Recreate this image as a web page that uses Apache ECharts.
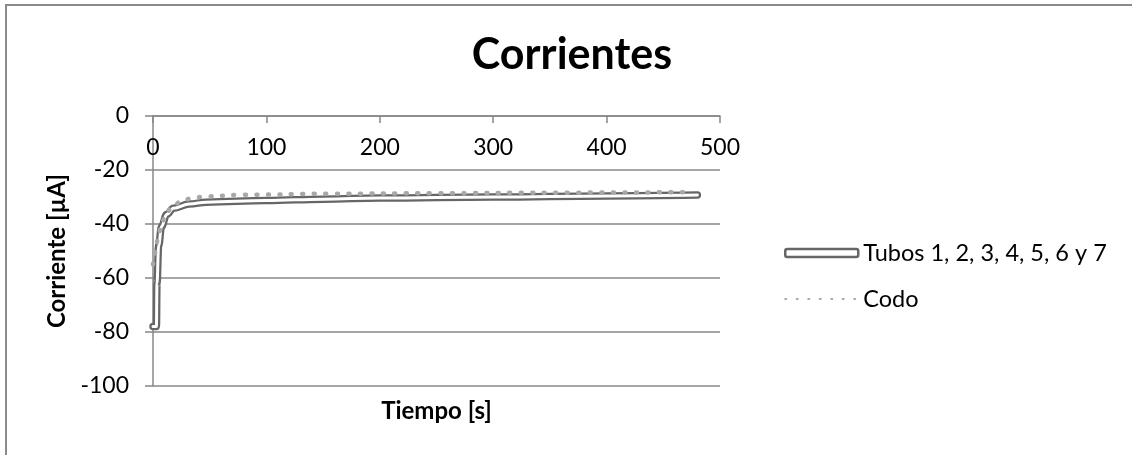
<!DOCTYPE html>
<html>
<head>
<meta charset="utf-8">
<title>Corrientes</title>
<script src="https://cdn.jsdelivr.net/npm/echarts@6/dist/echarts.min.js"></script>
<style>
html, body { margin: 0; padding: 0; background: #fff; }
#chart { width: 1132px; height: 455px; }
</style>
</head>
<body>
<div id="chart"></div>
<script>
// datos
var tubosTiempo = [0, 3, 3.5, 5, 7.5, 12, 18, 32, 47, 100, 150, 200, 300, 400, 480];
var tubosCorriente = [-78, -78, -62, -48, -41, -36.5, -34.2, -32.6, -31.9, -31.3, -30.8, -30.4, -30, -29.6, -29.3];
var codoTiempo = [0, 1.5, 3, 4.5, 7.5, 11, 17, 26, 35, 46, 77, 156, 250, 350, 474];
var codoCorriente = [-55, -51, -47.5, -44.5, -40.2, -36.5, -33.5, -31.2, -30.4, -29.8, -29.2, -28.8, -28.6, -28.4, -28.2];

var nombres = ['Tubos 1, 2, 3, 4, 5, 6 y 7', 'Codo'];
var ejeTiempo = { min: 0, max: 500, interval: 100 };
var ejeCorriente = { min: -100, max: 0, interval: 20 };

function pares(xs, ys) {
  return xs.map(function (x, i) { return [x, ys[i]]; });
}

var myChart = echarts.init(document.getElementById('chart'));

var gris = '#878787';
var option = {
  animation: false,
  textStyle: { fontFamily: 'Lato' },
  title: {
    text: 'Corrientes',
    left: 567,
    textAlign: 'center',
    top: 29,
    textStyle: { fontFamily: 'Lato', fontWeight: 'bold', fontSize: 43, color: '#000' }
  },
  graphic: [{
    type: 'rect',
    shape: { x: 6, y: 5, width: 1300, height: 600 },
    style: { fill: 'none', stroke: '#8a8a8a', lineWidth: 2 },
    silent: true,
    z: -1
  }],
  legend: {
    orient: 'vertical',
    left: 779,
    top: 236,
    itemWidth: 73,
    itemHeight: 8,
    itemGap: 22,
    textStyle: { fontFamily: 'Lato', fontSize: 23.5, color: '#000' },
    data: [
      { name: nombres[0], icon: 'roundRect', itemStyle: { color: '#fff', borderColor: '#666', borderWidth: 2.5 } },
      { name: nombres[1], itemStyle: { opacity: 0 } }
    ]
  },
  grid: { left: 153, top: 116, right: 412, bottom: 69 },
  xAxis: [{
    type: 'value',
    position: 'top',
    min: ejeTiempo.min, max: ejeTiempo.max, interval: ejeTiempo.interval,
    axisLine: { onZero: false, lineStyle: { color: gris, width: 1.5 } },
    axisTick: { show: true, inside: true, length: 7, lineStyle: { color: gris, width: 1.5 } },
    axisLabel: { inside: true, margin: 20, fontSize: 23, color: '#000', fontFamily: 'Lato' },
    splitLine: { show: false }
  }, {
    type: 'value',
    position: 'bottom',
    min: ejeTiempo.min, max: ejeTiempo.max,
    axisLine: { show: false, onZero: false },
    axisTick: { show: false },
    axisLabel: { show: false },
    splitLine: { show: false },
    name: 'Tiempo [s]',
    nameLocation: 'middle',
    nameGap: 13,
    nameTextStyle: { fontFamily: 'Lato', fontWeight: 'bold', fontSize: 24, color: '#000', verticalAlign: 'top' }
  }],
  yAxis: {
    type: 'value',
    min: ejeCorriente.min, max: ejeCorriente.max, interval: ejeCorriente.interval,
    axisLine: { show: true, onZero: false, lineStyle: { color: gris, width: 1.5 } },
    axisTick: { show: true, length: 8, lineStyle: { color: gris, width: 1.5 } },
    axisLabel: { margin: 24, fontSize: 23, color: '#000', fontFamily: 'Lato' },
    splitLine: { show: true, lineStyle: { color: gris, width: 1.5 } },
    name: 'Corriente [µA]',
    nameLocation: 'middle',
    nameRotate: 90,
    nameGap: 83,
    nameTextStyle: { fontFamily: 'Lato', fontWeight: 'bold', fontSize: 24, color: '#000' }
  },
  series: [
    {
      name: nombres[0],
      type: 'line',
      smooth: 0.4,
      smoothMonotone: 'x',
      symbol: 'none',
      silent: true,
      lineStyle: { color: '#666', width: 7.5, cap: 'round', join: 'round' },
      itemStyle: { color: '#666' },
      data: pares(tubosTiempo, tubosCorriente),
      z: 2
    },
    {
      name: nombres[0],
      type: 'line',
      smooth: 0.4,
      smoothMonotone: 'x',
      symbol: 'none',
      silent: true,
      lineStyle: { color: '#fff', width: 3, cap: 'round', join: 'round' },
      itemStyle: { color: '#fff' },
      data: pares(tubosTiempo, tubosCorriente),
      z: 3
    },
    {
      name: nombres[1],
      type: 'line',
      smooth: 0.4,
      smoothMonotone: 'x',
      symbol: 'none',
      silent: true,
      lineStyle: { color: '#a8a8a8', width: 4.5, type: [1, 10.5], cap: 'round' },
      itemStyle: { color: '#a8a8a8' },
      data: pares(codoTiempo, codoCorriente),
      z: 4
    }
  ]
};

myChart.setOption(option);
window.onresize = function () {
  myChart.resize();
};
</script>
</body>
</html>
